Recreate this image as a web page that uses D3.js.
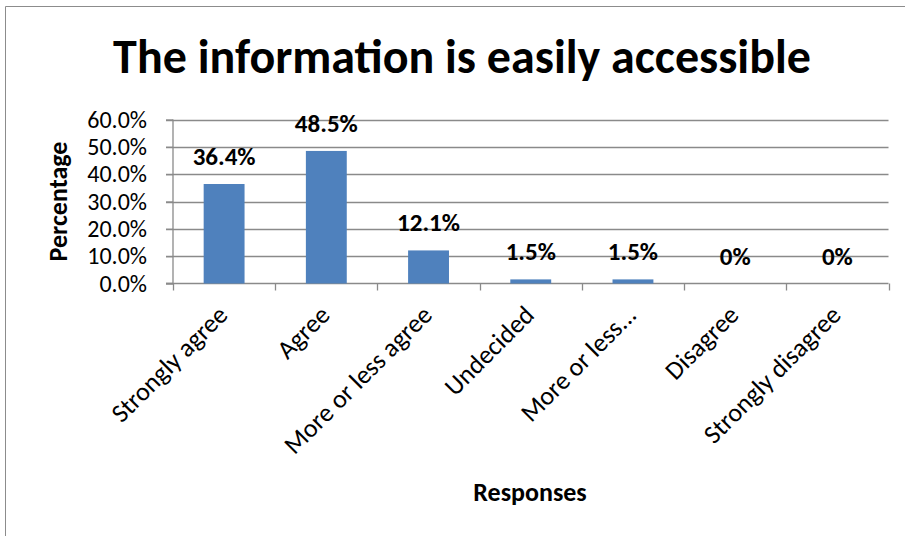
<!DOCTYPE html>
<html>
<head>
<meta charset="utf-8">
<script src="https://cdn.jsdelivr.net/npm/d3@7"></script>
<style>
  html, body { margin: 0; padding: 0; background: #fff; }
  svg { display: block; font-family: Carlito, Lato, "Open Sans", sans-serif; }
</style>
</head>
<body>
<svg id="chart" width="905" height="536"></svg>
<script>
// Survey responses for "The information is easily accessible"
const categories = ["Strongly agree", "Agree", "More or less agree", "Undecided", "More or less...", "Disagree", "Strongly disagree"];
const values = [36.4, 48.5, 12.1, 1.5, 1.5, 0, 0];
const valueLabels = ["36.4%", "48.5%", "12.1%", "1.5%", "1.5%", "0%", "0%"];
const yTicks = [0, 10, 20, 30, 40, 50, 60];

const svg = d3.select("#chart");
const W = 905, H = 536;
const plot = { left: 173, right: 888.5, top: 119.5, bottom: 283.5 };

// outer chart frame (left and top edges visible)
svg.append("path")
  .attr("d", `M5.5,${H} V6.5 H${W}`)
  .attr("fill", "none")
  .attr("stroke", "#8c8c8c")
  .attr("stroke-width", 1);

const x = d3.scaleBand().domain(categories).range([plot.left, plot.right]).paddingInner(0.6).paddingOuter(0.3);
const y = d3.scaleLinear().domain([0, 60]).range([plot.bottom, plot.top]);

// horizontal gridlines
svg.append("g")
  .selectAll("line")
  .data(yTicks.slice(1))
  .join("line")
  .attr("x1", plot.left - 7).attr("x2", plot.right)
  .attr("y1", d => Math.round(y(d)) + 0.5).attr("y2", d => Math.round(y(d)) + 0.5)
  .attr("stroke", "#8a8a8a").attr("stroke-width", 1.3);

// y axis
const yAxis = d3.axisLeft(y).tickValues(yTicks).tickFormat(d => d.toFixed(1) + "%").tickSize(7).tickPadding(19);
const gy = svg.append("g").attr("transform", `translate(${plot.left},0)`).call(yAxis);
gy.select(".domain").attr("stroke", "#8a8a8a").attr("stroke-width", 1.3).attr("d", `M-7,${plot.bottom}H0V${plot.top}`);
gy.selectAll(".tick line").attr("stroke", "#8a8a8a").attr("stroke-width", 1.3);
gy.selectAll(".tick text").attr("fill", "#000").style("font-size", "24px").style("font-family", "Carlito, Lato, sans-serif");

// x axis with ticks between categories
const boundaries = d3.range(categories.length + 1).map(i => plot.left + i * (plot.right - plot.left) / categories.length);
svg.append("line")
  .attr("x1", plot.left - 7).attr("x2", plot.right)
  .attr("y1", plot.bottom).attr("y2", plot.bottom)
  .attr("stroke", "#8a8a8a").attr("stroke-width", 1.3);
svg.append("g").selectAll("line")
  .data(boundaries)
  .join("line")
  .attr("x1", d => Math.round(d) + 0.5).attr("x2", d => Math.round(d) + 0.5)
  .attr("y1", plot.bottom).attr("y2", plot.bottom + 7)
  .attr("stroke", "#8a8a8a").attr("stroke-width", 1.3);

// bars
svg.append("g").selectAll("rect")
  .data(values)
  .join("rect")
  .attr("x", (d, i) => x(categories[i]))
  .attr("y", d => y(d))
  .attr("width", x.bandwidth())
  .attr("height", d => y(0) - y(d))
  .attr("fill", "#4f81bd");

// value labels
svg.append("g").selectAll("text")
  .data(values)
  .join("text")
  .attr("x", (d, i) => x(categories[i]) + x.bandwidth() / 2)
  .attr("y", d => y(d) - 19)
  .attr("text-anchor", "middle")
  .style("font-size", "25px").style("font-weight", "bold")
  .text((d, i) => valueLabels[i]);

// rotated category labels
svg.append("g").selectAll("text")
  .data(categories)
  .join("text")
  .attr("transform", d => `translate(${x(d) + x.bandwidth() / 2 + 5},${plot.bottom + 33}) rotate(-45)`)
  .attr("text-anchor", "end")
  .style("font-size", "26px")
  .text(d => d);

// title
svg.append("text")
  .attr("x", 462).attr("y", 73)
  .attr("text-anchor", "middle")
  .style("font-size", "48px").style("font-weight", "bold")
  .text("The information is easily accessible");

// axis titles
svg.append("text")
  .attr("transform", `translate(67,${(plot.top + plot.bottom) / 2}) rotate(-90)`)
  .attr("text-anchor", "middle")
  .style("font-size", "26px").style("font-weight", "bold")
  .text("Percentage");

svg.append("text")
  .attr("x", 530).attr("y", 501)
  .attr("text-anchor", "middle")
  .style("font-size", "26px").style("font-weight", "bold")
  .text("Responses");
</script>
</body>
</html>
